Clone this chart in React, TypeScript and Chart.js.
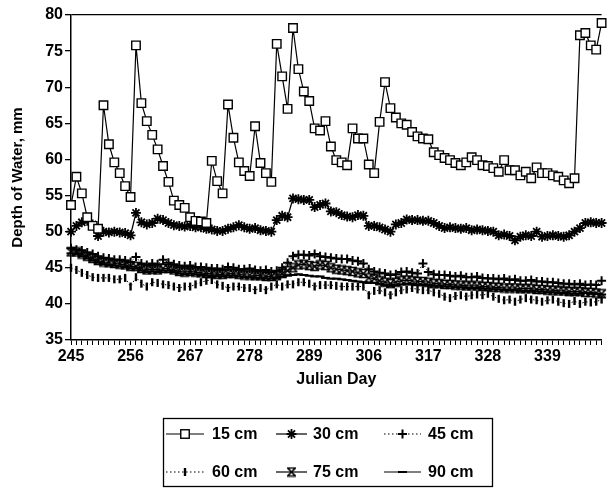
import React, { useEffect, useRef } from 'react';
import { Chart, registerables } from 'chart.js';

Chart.register(...registerables);

// ---- Data ----
const tickDays = ['245', '256', '267', '278', '289', '306', '317', '328', '339'];
const seriesNames = ['15 cm', '30 cm', '45 cm', '60 cm', '75 cm', '90 cm'];

const depth15 = [
  53.7, 57.6, 55.3, 52.0, 50.8, 50.4, 67.5, 62.1, 59.6, 58.1,
  56.3, 54.8, 75.8, 67.8, 65.3, 63.4, 61.4, 59.1, 56.9, 54.3,
  53.7, 53.3, 52.0, 51.5, 51.4, 51.2, 59.8, 57.0, 55.3, 67.6,
  63.0, 59.6, 58.4, 57.7, 64.6, 59.5, 58.1, 56.9, 76.0, 71.5,
  67.0, 78.2, 72.5, 69.4, 68.1, 64.3, 64.0, 65.3, 61.8, 59.9,
  59.6, 59.2, 64.3, 62.9, 62.9, 59.3, 58.1, 65.2, 70.7, 67.1,
  65.8, 65.0, 64.8, 63.8, 63.2, 62.9, 62.8, 61.0, 60.6, 60.2,
  59.9, 59.5, 59.2, 59.6, 60.3, 59.9, 59.2, 59.1, 58.8, 58.3,
  59.9, 58.5, 58.5, 57.8, 58.3, 57.4, 58.9, 58.1, 58.1, 57.8,
  57.6, 57.1, 56.7, 57.4, 77.2, 77.5, 75.8, 75.2, 78.9,
];

const depth30 = [
  50.0, 50.8, 51.3, 51.5, 51.0, 49.4, 50.0, 49.9, 50.0, 49.9,
  49.8, 49.5, 52.6, 51.3, 51.0, 51.2, 51.8, 51.6, 51.2, 50.9,
  50.8, 50.7, 50.8, 50.6, 50.6, 50.4, 50.3, 50.1, 50.1, 50.4,
  50.6, 50.9, 50.6, 50.4, 50.5, 50.2, 50.1, 50.0, 51.6, 52.2,
  52.0, 54.6, 54.5, 54.4, 54.4, 53.4, 53.7, 53.9, 52.8, 52.7,
  52.3, 52.1, 52.0, 52.3, 52.2, 50.8, 50.8, 50.6, 50.3, 50.0,
  51.0, 51.2, 51.7, 51.6, 51.6, 51.5, 51.5, 51.2, 50.8, 50.5,
  50.6, 50.5, 50.4, 50.5, 50.2, 50.3, 50.2, 50.1, 50.0, 49.5,
  49.6, 49.4, 48.8, 49.3, 49.5, 49.4, 50.0, 49.3, 49.4, 49.5,
  49.4, 49.3, 49.5, 50.0, 50.5, 51.2, 51.3, 51.2, 51.2,
];

const depth45 = [
  47.7, 47.5, 47.4, 47.1, 46.9, 46.6, 46.4, 46.3, 46.1, 46.1,
  46.0, 45.8, 46.5, 45.6, 45.4, 45.6, 45.5, 46.1, 45.7, 45.5,
  45.3, 45.2, 45.3, 45.1, 45.1, 45.0, 44.9, 44.9, 44.8, 45.1,
  45.0, 44.8, 44.8, 44.9, 44.7, 44.6, 44.7, 44.5, 44.6, 45.0,
  45.7, 46.6, 46.8, 46.8, 46.7, 46.9, 46.6, 46.5, 46.4, 46.3,
  46.2, 46.2, 46.0, 45.9, 45.6, 44.8, 44.5, 44.3, 44.2, 44.0,
  44.1, 44.4, 44.5, 44.3, 44.2, 45.6, 44.4, 44.1, 44.0, 44.0,
  43.9, 43.8, 43.9, 43.7, 43.7, 43.8, 43.6, 43.5, 43.5, 43.4,
  43.5, 43.3, 43.4, 43.2, 43.2, 43.3, 43.1, 43.1, 43.0, 43.0,
  42.9, 42.8, 42.8, 42.7, 42.8, 42.6, 42.7, 42.6, 43.2,
];

const depth60 = [
  45.0, 44.7, 44.3, 44.0, 43.7, 43.6, 43.6, 43.6, 43.4, 43.4,
  43.6, 42.4, 43.7, 42.8, 42.4, 43.0, 42.9, 42.7, 42.6, 42.4,
  42.2, 42.4, 42.4, 42.7, 43.0, 43.2, 43.3, 42.7, 42.5, 42.2,
  42.4, 42.4, 42.2, 42.2, 41.9, 42.2, 41.9, 42.4, 42.7, 42.4,
  42.7, 42.7, 43.0, 43.0, 42.8, 42.4, 42.6, 42.6, 42.6, 42.5,
  42.4, 42.4, 42.4, 42.4, 42.4, 41.2, 41.8, 41.9, 41.6, 41.2,
  41.6, 41.9, 42.0, 42.2, 42.0, 41.9, 41.9, 41.6, 41.4, 41.0,
  40.8, 41.1, 41.2, 41.0, 41.2, 41.3, 41.2, 41.4, 41.0, 40.7,
  40.5, 40.6, 40.3, 40.6, 40.8, 40.6, 40.5, 40.3, 40.5, 40.6,
  40.3, 40.1, 40.0, 40.4, 40.0, 40.3, 40.2, 40.3, 40.6,
];

const depth75 = [
  47.2, 47.2, 46.9, 46.6, 46.3, 46.0, 45.8, 45.7, 45.6, 45.5,
  45.4, 45.2, 45.2, 44.9, 44.7, 44.8, 44.7, 44.9, 44.9, 44.7,
  44.5, 44.4, 44.5, 44.4, 44.3, 44.2, 44.2, 44.1, 44.1, 44.2,
  44.2, 44.1, 44.0, 44.0, 43.9, 43.9, 43.8, 43.8, 43.9, 44.2,
  44.6, 45.0, 45.4, 45.5, 45.3, 45.2, 45.4, 45.3, 45.0, 44.8,
  44.7, 44.6, 44.5, 44.3, 44.2, 43.6, 43.5, 43.2, 43.0, 42.8,
  43.0, 43.2, 43.3, 43.2, 43.1, 43.1, 43.0, 42.8, 42.8, 42.7,
  42.7, 42.6, 42.6, 42.5, 42.5, 42.5, 42.4, 42.4, 42.3, 42.3,
  42.2, 42.2, 42.2, 42.1, 42.1, 42.1, 42.0, 42.0, 41.9, 41.9,
  41.8, 41.8, 41.7, 41.7, 41.7, 41.6, 41.6, 41.5, 41.4,
];

const depth90 = [
  47.0, 46.9, 46.6, 46.3, 46.0, 45.7, 45.5, 45.4, 45.3, 45.2,
  45.1, 44.9, 44.9, 44.6, 44.4, 44.5, 44.4, 44.6, 44.6, 44.4,
  44.2, 44.1, 44.2, 44.1, 44.0, 43.9, 43.9, 43.8, 43.8, 43.9,
  43.9, 43.8, 43.7, 43.7, 43.6, 43.6, 43.5, 43.5, 43.6, 43.8,
  43.9, 44.0, 44.1, 44.0, 43.9, 43.8, 43.8, 43.6, 43.5, 43.5,
  43.4, 43.3, 43.2, 43.1, 43.0, 42.9, 42.9, 42.8, 42.6, 42.5,
  42.6, 42.7, 42.8, 42.8, 42.7, 42.7, 42.6, 42.5, 42.5, 42.4,
  42.4, 42.3, 42.3, 42.2, 42.2, 42.2, 42.1, 42.1, 42.0, 42.0,
  41.9, 41.9, 41.9, 41.8, 41.8, 41.8, 41.7, 41.7, 41.6, 41.6,
  41.5, 41.5, 41.4, 41.4, 41.4, 41.5, 41.4, 41.4, 41.3,
];

const FONT = '"Liberation Sans", Arial, Helvetica, sans-serif';

function makeHourglass(): HTMLCanvasElement {
  const c = document.createElement('canvas');
  c.width = 11;
  c.height = 11;
  const g = c.getContext('2d')!;
  g.strokeStyle = '#000';
  g.lineWidth = 1.7;
  g.beginPath();
  g.moveTo(1, 1.5); g.lineTo(10, 1.5);
  g.moveTo(1, 9.5); g.lineTo(10, 9.5);
  g.moveTo(1.5, 1.5); g.lineTo(9.5, 9.5);
  g.moveTo(9.5, 1.5); g.lineTo(1.5, 9.5);
  g.stroke();
  return c;
}

function drawMarker(ctx: CanvasRenderingContext2D, style: any, x: number, y: number, r: number, rot: number, bw: number) {
  ctx.save();
  ctx.strokeStyle = '#000';
  ctx.lineWidth = bw || 1.4;
  ctx.setLineDash([]);
  if (typeof style !== 'string') {
    ctx.drawImage(style, x - style.width / 2, y - style.height / 2);
  } else if (style === 'rect') {
    const s = r * Math.SQRT1_2;
    ctx.fillStyle = '#fff';
    ctx.fillRect(x - s, y - s, 2 * s, 2 * s);
    ctx.strokeRect(x - s, y - s, 2 * s, 2 * s);
  } else if (style === 'star' || style === 'cross') {
    ctx.beginPath();
    ctx.moveTo(x - r, y); ctx.lineTo(x + r, y);
    ctx.moveTo(x, y - r); ctx.lineTo(x, y + r);
    if (style === 'star') {
      const d = r * Math.SQRT1_2;
      ctx.moveTo(x - d, y - d); ctx.lineTo(x + d, y + d);
      ctx.moveTo(x + d, y - d); ctx.lineTo(x - d, y + d);
    }
    ctx.stroke();
  } else if (style === 'line') {
    const a = (rot * Math.PI) / 180;
    ctx.beginPath();
    ctx.moveTo(x - Math.cos(a) * r, y - Math.sin(a) * r);
    ctx.lineTo(x + Math.cos(a) * r, y + Math.sin(a) * r);
    ctx.stroke();
  }
  ctx.restore();
}

const boxLegend = {
  id: 'boxLegend',
  afterDraw(chart: any) {
    const ctx: CanvasRenderingContext2D = chart.ctx;
    ctx.save();
    ctx.strokeStyle = '#000';
    ctx.lineWidth = 1.3;
    ctx.strokeRect(163.5, 418.5, 329, 68);
    const cols = [
      { s: 166, e: 204, t: 212 },
      { s: 276, e: 307, t: 313 },
      { s: 384, e: 421, t: 428 },
    ];
    const rows = [434, 472];
    chart.data.datasets.forEach((ds: any, i: number) => {
      const col = cols[i % 3];
      const y = rows[Math.floor(i / 3)];
      ctx.strokeStyle = '#000';
      ctx.lineWidth = 1.2;
      ctx.setLineDash(ds.borderDash || []);
      ctx.beginPath();
      ctx.moveTo(col.s, y);
      ctx.lineTo(col.e, y);
      ctx.stroke();
      ctx.setLineDash([]);
      drawMarker(ctx, ds.pointStyle, (col.s + col.e) / 2, y, ds.pointRadius, ds.pointRotation || 0, ds.pointBorderWidth);
      ctx.fillStyle = '#000';
      ctx.font = `bold 16px ${FONT}`;
      ctx.textBaseline = 'middle';
      ctx.textAlign = 'left';
      ctx.fillText(ds.label, col.t, y + 1);
    });
    ctx.restore();
  },
};

export default function App() {
  const ref = useRef<HTMLCanvasElement | null>(null);

  useEffect(() => {
    if (!ref.current) return;
    const hourglass = makeHourglass();
    const labels = depth15.map((_, i) => String(i));
    const base = {
      borderColor: '#000',
      pointBorderColor: '#000',
      pointBackgroundColor: '#000',
      tension: 0,
      clip: false as any,
    };
    const chart = new Chart(ref.current, {
      type: 'line',
      data: {
        labels,
        datasets: [
          { ...base, label: seriesNames[0], data: depth15, borderWidth: 1.2, pointStyle: 'rect', pointRadius: 6, pointBackgroundColor: '#fff', pointBorderWidth: 1.4 },
          { ...base, label: seriesNames[1], data: depth30, borderWidth: 1.3, pointStyle: 'star', pointRadius: 5, pointBorderWidth: 1.8 },
          { ...base, label: seriesNames[2], data: depth45, borderWidth: 1, borderDash: [1.5, 2.5], pointStyle: 'cross', pointRadius: 4.5, pointBorderWidth: 2 },
          { ...base, label: seriesNames[3], data: depth60, borderWidth: 1, borderDash: [1.5, 2.5], pointStyle: 'line', pointRotation: 90, pointRadius: 4, pointBorderWidth: 2.4 },
          { ...base, label: seriesNames[4], data: depth75, borderWidth: 1.2, pointStyle: hourglass as any, pointRadius: 5, pointBorderWidth: 1.5 },
          { ...base, label: seriesNames[5], data: depth90, borderWidth: 1.3, pointStyle: 'line', pointRotation: 0, pointRadius: 4.5, pointBorderWidth: 2 },
        ] as any,
      },
      options: {
        responsive: false,
        animation: false,
        devicePixelRatio: 1,
        layout: { padding: { left: 0, top: 15, right: 2, bottom: 98 } },
        plugins: { legend: { display: false }, tooltip: { enabled: false } },
        scales: {
          x: {
            type: 'category',
            offset: false,
            afterFit: (s: any) => { s.height = 50; },
            border: { display: true, color: '#000', width: 1.5 },
            grid: { display: true, drawOnChartArea: false, color: '#000', tickLength: 5, lineWidth: 1, offset: false },
            ticks: {
              autoSkip: false,
              maxRotation: 0,
              minRotation: 0,
              padding: 2,
              color: '#000',
              font: { family: FONT, size: 16, weight: 'bold' },
              callback: (_v: any, idx: number) => (idx % 11 === 0 && tickDays[idx / 11] ? tickDays[idx / 11] : ''),
            },
            title: {
              display: true,
              text: 'Julian Day',
              color: '#000',
              font: { family: FONT, size: 16, weight: 'bold' },
              padding: { top: 0, bottom: 1 },
            },
          },
          y: {
            type: 'linear',
            min: 35,
            max: 80,
            afterFit: (s: any) => { s.width = 71; },
            border: { display: true, color: '#000', width: 1.5 },
            grid: {
              display: true,
              drawOnChartArea: true,
              color: (c: any) => (c.tick && c.tick.value === 80 ? '#000' : 'rgba(0,0,0,0)'),
              tickColor: '#000',
              tickLength: 6,
              lineWidth: 1.3,
            },
            ticks: {
              stepSize: 5,
              padding: 2,
              color: '#000',
              font: { family: FONT, size: 16, weight: 'bold' },
            },
            title: {
              display: true,
              text: 'Depth of Water, mm',
              color: '#000',
              font: { family: FONT, size: 15, weight: 'bold' },
              padding: { top: 9, bottom: 0 },
            },
          },
        },
      } as any,
      plugins: [boxLegend],
    });
    return () => chart.destroy();
  }, []);

  return (
    <div style={{ position: 'fixed', left: 0, top: 0, width: 609, height: 488, background: '#fff' }}>
      <canvas ref={ref} width={609} height={488} style={{ width: 609, height: 488, display: 'block' }} />
    </div>
  );
}
